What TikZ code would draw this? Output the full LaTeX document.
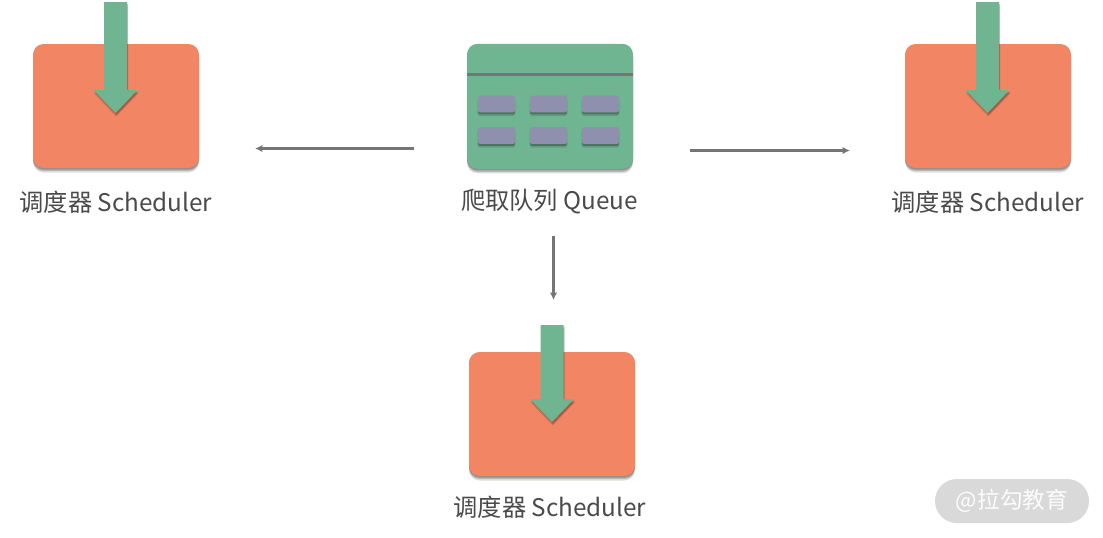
\documentclass[tikz,border=0pt]{standalone}
\usepackage{fontspec}
\setmainfont{Noto Sans CJK SC}
\usetikzlibrary{arrows.meta}
\definecolor{orangebox}{HTML}{F28563}
\definecolor{greenbox}{HTML}{6FB592}
\definecolor{slot}{HTML}{8F8FAE}
\definecolor{linegray}{HTML}{757575}
\definecolor{textgray}{HTML}{4A4A4A}
\definecolor{pill}{HTML}{D9D9D9}
\tikzset{
  softshadow/.style={preaction={fill=black,fill opacity=0.12,transform canvas={yshift=-3.4pt}},
                     preaction={fill=black,fill opacity=0.18,transform canvas={yshift=-2.4pt}},
                     preaction={fill=black,fill opacity=0.22,transform canvas={yshift=-1.2pt}}},
  slotshadow/.style={preaction={fill=black,fill opacity=0.12,transform canvas={yshift=-2.8pt}},
                     preaction={fill=black,fill opacity=0.25,transform canvas={yshift=-1.6pt}}},
  card/.style={rectangle,rounded corners=8pt,minimum width=124.5pt,inner sep=0pt,softshadow},
  sched/.style={card,minimum height=93pt,fill=orangebox},
  queuebox/.style={card,minimum height=93.8pt,fill=greenbox},
  slotbox/.style={rectangle,rounded corners=1.2pt,fill=slot,minimum width=28pt,minimum height=12.4pt,inner sep=0pt,slotshadow},
  lab/.style={text=textgray,font=\fontsize{18.2pt}{22pt}\selectfont,inner sep=0pt},
  conn/.style={draw=linegray,line width=1.9pt,-{Latex[length=5.5pt,width=5.5pt]}},
  pics/bigarrow/.style={code={
    \path[fill=greenbox,preaction={fill=black,fill opacity=0.14,transform canvas={xshift=0.5pt,yshift=-2.6pt}},
          preaction={fill=black,fill opacity=0.20,transform canvas={xshift=0.8pt,yshift=-1.4pt}}]
      (-11.5,0) -- (11.5,0) -- (11.5,#1) -- (22,#1) -- (0,#1+23) -- (-22,#1) -- (-11.5,#1) -- cycle;
  }},
}
\begin{document}
\begin{tikzpicture}[x=0.75pt,y=-0.75pt]
\useasboundingbox (0,0) rectangle (1103,537);
% scheduler cards
\node[sched] (left) at (116,106) {};
\node[sched] (right) at (988,106) {};
\node[sched] (bottom) at (552,414) {};
\pic at (115.5,2) {bigarrow=88};
\pic at (987.5,2) {bigarrow=88};
\pic at (552,325) {bigarrow=74};
% queue
\node[queuebox] (queue) at (550,106.3) {};
\coordinate (qa) at (467,74.5);
\coordinate (qb) at (633,74.5);
\draw[linegray,line width=2.4pt] (qa) -- (qb);
\foreach \n/\x/\y in {a/496.5/104,b/548.5/104,c/600.5/104,d/496.5/135.5,e/548.5/135.5,f/600.5/135.5}
  \node[slotbox] (slot\n) at (\x,\y) {};
% labels
\node[lab] (leftlab) at (116,202) {调度器 Scheduler};
\node[lab] (rightlab) at (988,202) {调度器 Scheduler};
\node[lab] (bottomlab) at (550,507) {调度器 Scheduler};
\node[lab] (queuelab) at (549.5,202) {爬取队列 Queue};
% connectors
\coordinate (l0) at (414,148.5); \coordinate (l1) at (255,148.5);
\coordinate (r0) at (690,150.5); \coordinate (r1) at (850,150.5);
\coordinate (d0) at (553.5,236); \coordinate (d1) at (553.5,300);
\draw[conn] (l0) -- (l1);
\draw[conn] (r0) -- (r1);
\draw[conn] (d0) -- (d1);
% watermark
\node[rectangle,rounded corners=16.4pt,fill=pill,minimum width=115.5pt,minimum height=33pt,inner sep=0pt,
      text=white!93!pill,font=\fontsize{17pt}{20pt}\selectfont] (mark) at (1012,501) {@拉勾教育};
\end{tikzpicture}
\end{document}
